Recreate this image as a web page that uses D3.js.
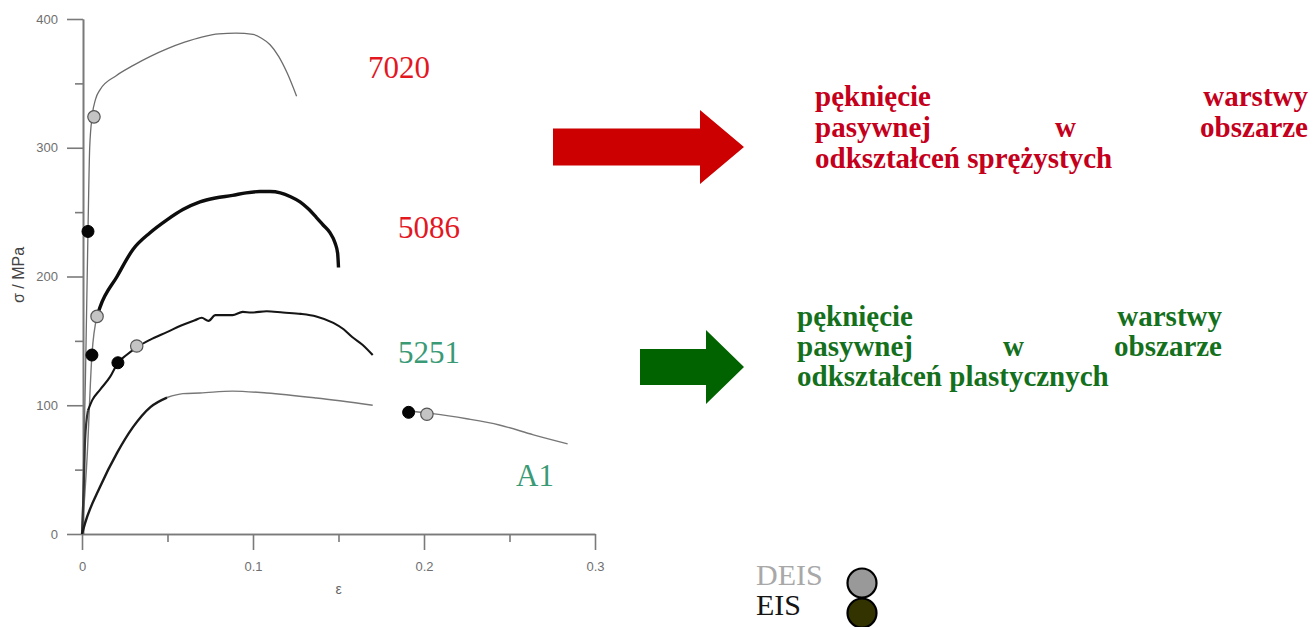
<!DOCTYPE html>
<html>
<head>
<meta charset="utf-8">
<script src="https://cdn.jsdelivr.net/npm/d3@7"></script>
<style>
  html, body { margin: 0; padding: 0; background: #fff; }
  svg { display: block; }
</style>
</head>
<body>
<div id="chart"></div>
<script>

/* stress-strain curves, [strain, stress MPa] */
var curve7020 = [[0, 0], [0.002, 120], [0.0035, 235], [0.0045, 300], [0.006, 325], [0.008, 338],
    [0.0105, 345], [0.02, 356], [0.03, 364], [0.04, 371], [0.05, 377], [0.06, 382], [0.07, 386],
    [0.08, 388.5], [0.09, 389], [0.1, 388], [0.105, 385], [0.11, 380], [0.115, 371], [0.12, 358],
    [0.1255, 340]];

var curve5086 = [[0, 0], [0.003, 60], [0.0058, 139], [0.0088, 169], [0.0105, 176], [0.0205, 200],
    [0.0298, 221], [0.0398, 234], [0.0497, 244], [0.059, 252], [0.069, 258], [0.078, 261],
    [0.088, 263], [0.096, 265], [0.104, 266], [0.11, 266], [0.116, 265], [0.122, 262], [0.1275, 258],
    [0.132, 253], [0.137, 246], [0.141, 240], [0.145, 234], [0.148, 226], [0.1495, 218], [0.150, 207]];

var curve5251 = [[0, 0], [0.001, 34], [0.0018, 73], [0.0035, 96], [0.006, 104], [0.0105, 112],
    [0.0164, 122], [0.021, 133], [0.026, 139], [0.032, 145], [0.040, 151], [0.050, 157], [0.058, 162],
    [0.066, 166], [0.070, 168], [0.074, 165.5], [0.078, 170], [0.088, 170], [0.094, 172.5], [0.099, 172],
    [0.108, 173], [0.1175, 172], [0.128, 171], [0.137, 169], [0.147, 164], [0.153, 159], [0.158, 153],
    [0.164, 147], [0.170, 139]];

var curveA1 = [[0, 0], [0.0018, 8.5], [0.0105, 36.5], [0.0205, 63], [0.0298, 83], [0.040, 98.6],
    [0.0497, 106], [0.059, 109], [0.069, 109.5], [0.088, 111], [0.108, 109.5], [0.137, 105.6],
    [0.170, 100], null, [0.191, 95.5], [0.205, 93.5], [0.225, 89.5], [0.244, 84.7], [0.264, 77],
    [0.284, 70]];

/* crack points: DEIS (grey) and EIS (black) */
var deisPoints = [[0.007, 324], [0.0088, 169], [0.032, 146], [0.2017, 93]];
var eisPoints = [[0.0035, 235], [0.0058, 139], [0.021, 133], [0.191, 94.5]];

var yMajor = [0, 100, 200, 300, 400];
var yMinor = [50, 150, 250, 350];
var xMajor = [0, 0.1, 0.2, 0.3];
var xMinor = [0.05, 0.15, 0.25];

var alloyLabels = ["7020", "5086", "5251", "A1"];
var redLines = [["pęknięcie", "warstwy"], ["pasywnej", "w", "obszarze"], ["odkształceń sprężystych"]];
var greenLines = [["pęknięcie", "warstwy"], ["pasywnej", "w", "obszarze"], ["odkształceń plastycznych"]];
var legendLabels = ["DEIS", "EIS"];

render();

function render() {

    var w = 1313, h = 627;
    var margin = {top: 19, left: 82, right: 595, bottom: 534};

    var svg = d3.select("#chart").append("svg")
        .attr("width", w)
        .attr("height", h);

    var x = d3.scaleLinear().domain([0, 0.3]).range([margin.left, margin.right]);
    var y = d3.scaleLinear().domain([0, 400]).range([margin.bottom, margin.top]);

    var axisColor = "#7a7a7a";

    /* axes */
    svg.append("g")
        .attr("transform", "translate(" + (x(0) + 1) + ",0)")
        .call(d3.axisLeft(y).tickValues(yMajor).tickSize(16).tickSizeOuter(0).tickPadding(9));
    svg.append("g")
        .attr("transform", "translate(" + (x(0) + 1) + ",0)")
        .call(d3.axisLeft(y).tickValues(yMinor).tickSize(8).tickSizeOuter(0).tickFormat(""));

    svg.append("g")
        .attr("transform", "translate(0," + y(0) + ")")
        .call(d3.axisBottom(x).tickValues(xMajor).tickSize(16).tickSizeOuter(0).tickPadding(12)
            .tickFormat(function (d) { return d === 0 ? "0" : d3.format(".1f")(d); }));
    svg.append("g")
        .attr("transform", "translate(0," + y(0) + ")")
        .call(d3.axisBottom(x).tickValues(xMinor).tickSize(8).tickSizeOuter(0).tickFormat(""));

    svg.selectAll(".domain, .tick line")
        .attr("stroke", axisColor)
        .attr("stroke-width", 1.6);
    svg.selectAll(".tick text")
        .attr("fill", "#6f6f6f")
        .style("font-family", "Liberation Sans, Arial, sans-serif")
        .style("font-size", "13px");

    svg.append("text")
        .attr("transform", "translate(24,275) rotate(-90)")
        .attr("text-anchor", "middle")
        .attr("fill", "#444")
        .style("font-family", "Liberation Sans, Arial, sans-serif")
        .style("font-size", "16px")
        .text("σ / MPa");

    svg.append("text")
        .attr("x", x(0.15))
        .attr("y", 594)
        .attr("text-anchor", "middle")
        .attr("fill", "#666")
        .style("font-family", "Liberation Sans, Arial, sans-serif")
        .style("font-size", "14px")
        .text("ε");

    /* curves: each drawn in two styles either side of a split strain */
    var series = [
        {data: curve7020, split: 1, a: {stroke: "#6c6c6c", width: 1.3}, b: {stroke: "#6c6c6c", width: 1.3}},
        {data: curve5086, split: 0.0088, a: {stroke: "#777", width: 1.4}, b: {stroke: "#0d0d0d", width: 3.4}},
        {data: curve5251, split: 0.0035, a: {stroke: "#333", width: 2.2}, b: {stroke: "#151515", width: 2.1}},
        {data: curveA1, split: 0.0497, a: {stroke: "#1a1a1a", width: 2.4}, b: {stroke: "#777", width: 1.4}}
    ];

    var line = d3.line()
        .defined(function (d) { return d !== null; })
        .x(function (d) { return x(d[0]); })
        .y(function (d) { return y(d[1]); })
        .curve(d3.curveMonotoneX);

    series.forEach(function (s) {
        var before = s.data.filter(function (d) { return d !== null && d[0] <= s.split; });
        var after = s.data.filter(function (d) { return d === null || d[0] >= s.split; });
        svg.append("path")
            .attr("d", line(before))
            .attr("fill", "none")
            .attr("stroke", s.a.stroke)
            .attr("stroke-width", s.a.width)
            .attr("stroke-linejoin", "round");
        if (after.length > 1) {
            svg.append("path")
                .attr("d", line(after))
                .attr("fill", "none")
                .attr("stroke", s.b.stroke)
                .attr("stroke-width", s.b.width)
                .attr("stroke-linejoin", "round");
        }
    });

    /* crack markers */
    svg.selectAll(".eis")
        .data(eisPoints)
        .enter().append("circle")
        .attr("class", "eis")
        .attr("cx", function (d) { return x(d[0]); })
        .attr("cy", function (d) { return y(d[1]); })
        .attr("r", 6)
        .attr("fill", "#050505")
        .attr("stroke", "#000")
        .attr("stroke-width", 1);

    svg.selectAll(".deis")
        .data(deisPoints)
        .enter().append("circle")
        .attr("class", "deis")
        .attr("cx", function (d) { return x(d[0]); })
        .attr("cy", function (d) { return y(d[1]); })
        .attr("r", 6.2)
        .attr("fill", "#c4c4c4")
        .attr("stroke", "#555")
        .attr("stroke-width", 1.2);

    /* alloy names */
    var labelPos = [[368, 78, "#e3171f"], [398, 238, "#e3171f"], [398, 363, "#3b9a76"], [516, 486, "#3b9a76"]];
    svg.selectAll(".alloy")
        .data(alloyLabels)
        .enter().append("text")
        .attr("class", "alloy")
        .attr("x", function (d, i) { return labelPos[i][0]; })
        .attr("y", function (d, i) { return labelPos[i][1]; })
        .attr("fill", function (d, i) { return labelPos[i][2]; })
        .style("font-family", "Liberation Serif, Times New Roman, serif")
        .style("font-size", "31px")
        .text(function (d) { return d; });

    /* arrows */
    function arrow(x0, x1, xt, yc, bodyHalf, headHalf, color) {
        var pts = [[x0, yc - bodyHalf], [x1, yc - bodyHalf], [x1, yc - headHalf], [xt, yc],
            [x1, yc + headHalf], [x1, yc + bodyHalf], [x0, yc + bodyHalf]];
        svg.append("path")
            .attr("d", "M" + pts.join("L") + "Z")
            .attr("fill", color);
    }
    arrow(553, 700, 744, 147, 18.5, 37, "#cc0000");
    arrow(640, 706, 744, 367, 18, 37, "#006300");

    /* justified text blocks */
    function block(lines, left, right, base, step, color) {
        lines.forEach(function (words, i) {
            var g = svg.append("g");
            var yy = base + i * step;
            var texts = words.map(function (wd) {
                return g.append("text")
                    .attr("y", yy)
                    .attr("fill", color)
                    .style("font-family", "Liberation Serif, Times New Roman, serif")
                    .style("font-weight", "bold")
                    .style("font-size", "29px")
                    .text(wd);
            });
            texts[0].attr("x", left);
            if (texts.length === 1) {
                return;
            }
            texts[texts.length - 1].attr("x", right).attr("text-anchor", "end");
            if (texts.length === 3) {
                var l0 = texts[0].node().getComputedTextLength();
                var l2 = texts[2].node().getComputedTextLength();
                texts[1].attr("x", (left + l0 + right - l2) / 2).attr("text-anchor", "middle");
            }
        });
    }
    block(redLines, 815, 1308, 106, 31, "#c4001c");
    block(greenLines, 797, 1222, 326, 30, "#14701c");

    /* legend */
    var legendColors = [["#a8a8a8", "#999999"], ["#151515", "#333300"]];
    var lg = svg.selectAll(".legend")
        .data(legendLabels)
        .enter().append("g")
        .attr("class", "legend")
        .attr("transform", function (d, i) { return "translate(756," + (585 + i * 30) + ")"; });
    lg.append("text")
        .attr("fill", function (d, i) { return legendColors[i][0]; })
        .style("font-family", "Liberation Serif, Times New Roman, serif")
        .style("font-size", "30px")
        .text(function (d) { return d; });
    lg.append("circle")
        .attr("cx", 106)
        .attr("cy", -2)
        .attr("r", 14.5)
        .attr("fill", function (d, i) { return legendColors[i][1]; })
        .attr("stroke", "#000")
        .attr("stroke-width", 2.2);
}

</script>
</body>
</html>
